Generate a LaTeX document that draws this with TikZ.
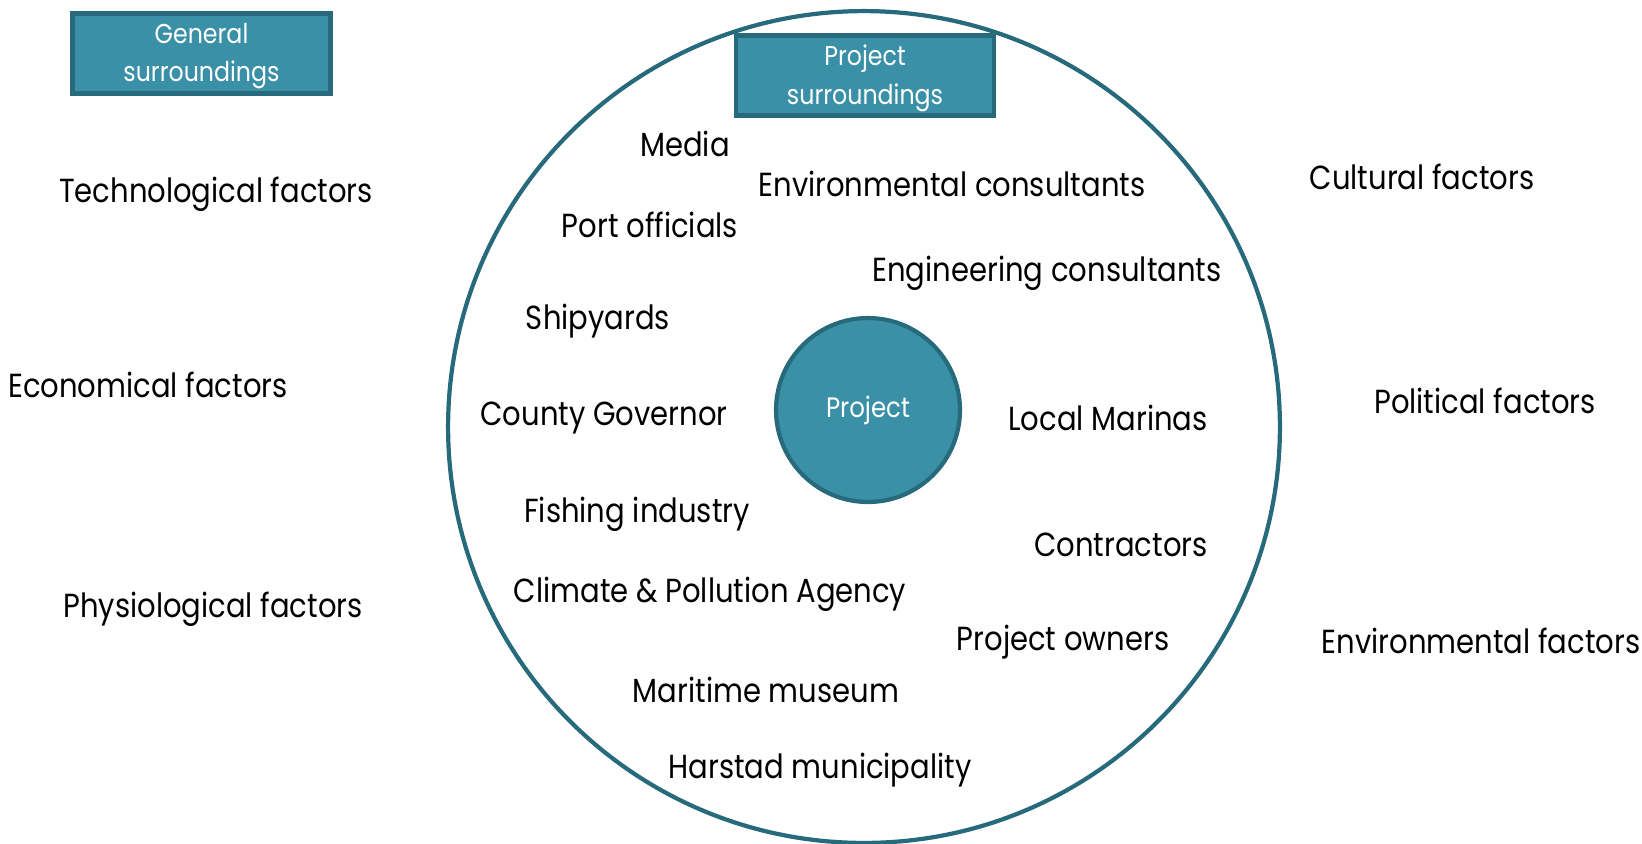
\documentclass[tikz,border=0pt]{standalone}
\usepackage{fontspec}
\setmainfont[FakeStretch=0.87]{Poppins}
\definecolor{tealfill}{RGB}{58,144,166}
\definecolor{tealdark}{RGB}{38,106,124}
\begin{document}
\begin{tikzpicture}[x=0.02cm,y=-0.02cm,
    factor/.style={font=\fontsize{19}{22}\selectfont,text=black,inner sep=0pt},
    party/.style={font=\fontsize{19}{22}\selectfont,text=black,inner sep=0pt},
    tagbox/.style={draw=tealdark,line width=2.5pt,fill=tealfill,minimum width=5.16cm,minimum height=1.6cm,inner sep=0pt},
    tagtext/.style={text=white,align=center,font=\fontsize{15.5}{22}\selectfont}]
	\useasboundingbox (0,0) rectangle (1642,843);
	%Vòng ngoài và dự án
	\node[circle,draw=tealdark,line width=2.4pt,minimum size=16.64cm] (ring) at (864,427) {};
	\node[circle,draw=tealdark,line width=2.4pt,fill=tealfill,minimum size=3.68cm,text=white,
	  font=\fontsize{16}{20}\selectfont] (project) at (868,410) {Project};
	%Các nhãn
	\node[tagbox] (general) at (201.5,53.5) {};
	\node[tagtext] (generaltxt) at (201.5,56) {General\\surroundings};
	\node[tagbox] (projsur) at (865,75.5) {};
	\node[tagtext] (projsurtxt) at (865,78) {Project\\surroundings};
	%Các yếu tố chung
	\node[factor] (tech) at (216,194) {Technological factors};
	\node[factor] (econ) at (148,385) {Economical factors};
	\node[factor] (phys) at (213,609) {Physiological factors};
	\node[factor] (cult) at (1422,177) {Cultural factors};
	\node[factor] (poli) at (1485,401) {Political factors};
	\node[factor] (envi) at (1481,641) {Environmental factors};
	%Các bên liên quan
	\node[party] (media) at (685,144) {Media};
	\node[party] (envcons) at (952,184) {Environmental consultants};
	\node[party] (port) at (650,225) {Port officials};
	\node[party] (engcons) at (1047,273) {Engineering consultants};
	\node[party] (ship) at (598,321) {Shipyards};
	\node[party] (county) at (604,418) {County Governor};
	\node[party] (marinas) at (1108,418) {Local Marinas};
	\node[party] (fish) at (637,514) {Fishing industry};
	\node[party] (contr) at (1121,545) {Contractors};
	\node[party] (climate) at (710,594) {Climate \& Pollution Agency};
	\node[party] (owners) at (1063,642) {Project owners};
	\node[party] (museum) at (766,690) {Maritime museum};
	\node[party] (harstad) at (820,770) {Harstad municipality};
\end{tikzpicture}
\end{document}
